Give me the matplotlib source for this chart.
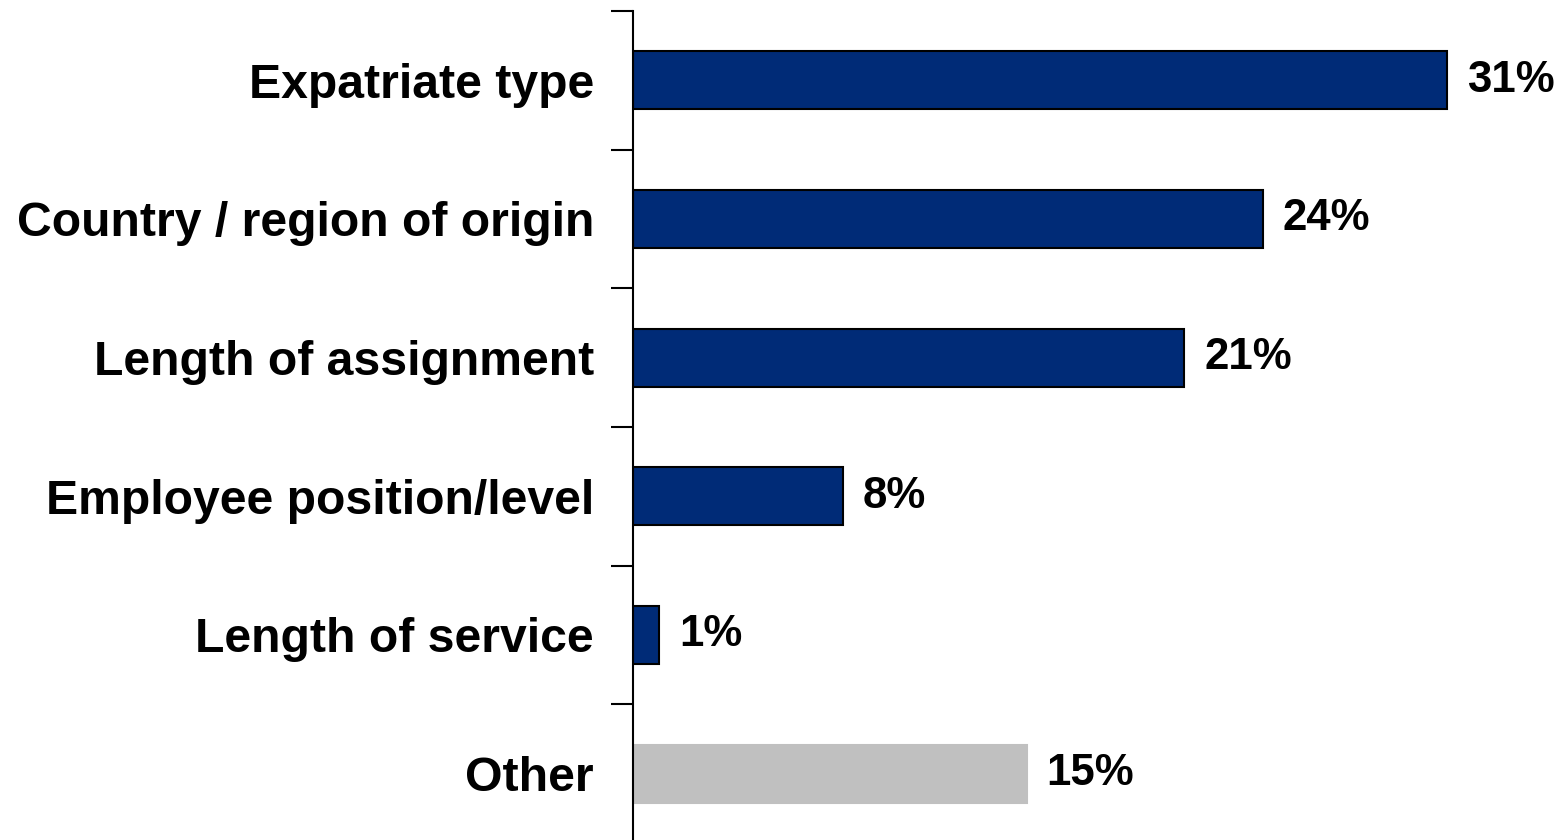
import matplotlib.pyplot as plt

# bases de remuneração usadas, % de respostas
categorias = ["Expatriate type", "Country / region of origin", "Length of assignment",
              "Employee position/level", "Length of service", "Other"]
valores = [31, 24, 21, 8, 1, 15]
cores = ["#002B77"] * 5 + ["#C0C0C0"]
bordas = ["#000000"] * 5 + ["#C0C0C0"]

plt.rcParams["font.family"] = ["Liberation Sans", "DejaVu Sans"]

fig = plt.figure(figsize=(15.64, 8.40), dpi=100)
ax = fig.add_axes([633 / 1564, -3 / 840, 1 - 633 / 1564, 832 / 840])

pos = list(range(len(categorias)))
ax.barh(pos, valores, height=0.42, color=cores, edgecolor=bordas, linewidth=1.5)

for p, v in zip(pos, valores):
    ax.text(v + 0.75, p, f"{v}%", va="center", ha="left",
            fontsize=31.5, fontweight="bold")

ax.set_ylim(len(categorias) - 0.5, -0.5)
ax.set_xlim(0, 931 / 26.26)

# rótulos no centro, marcas nas divisões entre categorias
ax.set_yticks(pos)
ax.set_yticklabels(categorias, fontsize=34.7, fontweight="bold")
ax.tick_params(axis="y", which="major", length=0, pad=28)
ax.set_yticks([p - 0.5 for p in pos], minor=True)
ax.tick_params(axis="y", which="minor", length=16, width=1.5, direction="out")

ax.set_xticks([])
for lado in ["top", "right", "bottom"]:
    ax.spines[lado].set_visible(False)
ax.spines["left"].set_linewidth(1.5)

fig.savefig("out.png", dpi=100)
